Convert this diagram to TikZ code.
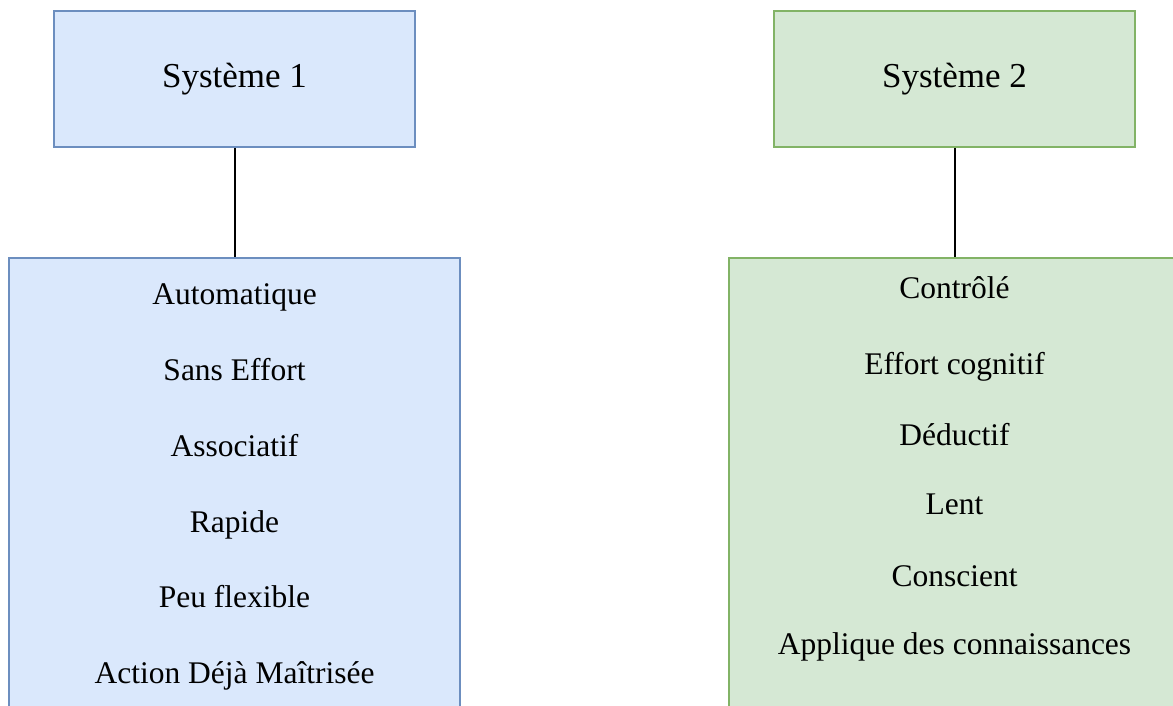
\documentclass[tikz,border=0pt]{standalone}
\usepackage{fontspec}
\setmainfont{Liberation Serif}
\usepackage{xcolor}
\usetikzlibrary{positioning}

\definecolor{blueFill}{HTML}{DAE8FC}
\definecolor{blueLine}{HTML}{6C8EBF}
\definecolor{greenFill}{HTML}{D5E8D4}
\definecolor{greenLine}{HTML}{82B366}

\begin{document}
\begin{tikzpicture}[x=0.5pt, y=0.5pt,
  every node/.style={font=\fontsize{15.75}{18}\selectfont},
  sysbox/.style={draw, line width=1pt, minimum width=180.5pt, minimum height=68pt, font=\fontsize{17.5}{20}\selectfont},
  listbox/.style={draw, line width=1pt, minimum width=225.5pt, minimum height=236pt},
  item/.style={anchor=base, inner sep=0pt},
  link/.style={line width=1pt, black}]
  \useasboundingbox (0,0) rectangle (1173,706);
  \clip (0,0) rectangle (1173,706);
  % systeme 1
  \node[sysbox, fill=blueFill, draw=blueLine] (sysOne) at (234.5,627) {Système 1};
  \node[listbox, fill=blueFill, draw=blueLine] (listOne) at (234.5,212) {};
  \draw[link] (sysOne.south) -- (listOne.north);
  \node[item] (autoItem) at (234.5,401.0) {Automatique};
  \node[item] (effortItem) at (234.5,325.3) {Sans Effort};
  \node[item] (assocItem) at (234.5,249.6) {Associatif};
  \node[item] (rapidItem) at (234.5,173.9) {Rapide};
  \node[item] (flexItem) at (234.5,98.2) {Peu flexible};
  \node[item] (actionItem) at (234.5,22.5) {Action Déjà Maîtrisée};
  % systeme 2
  \node[sysbox, fill=greenFill, draw=greenLine] (sysTwo) at (954.5,627) {Système 2};
  \node[listbox, fill=greenFill, draw=greenLine] (listTwo) at (954.5,212) {};
  \draw[link] (sysTwo.south) -- (listTwo.north);
  \node[item] (controlItem) at (954.5,407.7) {Contrôlé};
  \node[item] (cogItem) at (954.5,331.0) {Effort cognitif};
  \node[item] (deductItem) at (954.5,260.0) {Déductif};
  \node[item] (slowItem) at (954.5,191.0) {Lent};
  \node[item] (awareItem) at (954.5,119.3) {Conscient};
  \node[item] (knowItem) at (954.5,51.0) {Applique des connaissances};
\end{tikzpicture}
\end{document}
